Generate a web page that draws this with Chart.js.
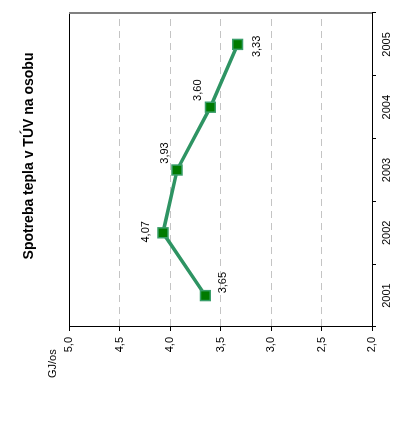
<!DOCTYPE html>
<html>
<head>
<meta charset="utf-8">
<script src="https://cdn.jsdelivr.net/npm/chart.js@4/dist/chart.umd.min.js"></script>
<style>
  html, body { margin: 0; padding: 0; background: #fff; overflow: hidden; }
  body { width: 393px; height: 428px; position: relative; }
  /* chart is drawn upright, then turned a quarter turn to match the page */
  #wrap {
    position: absolute; left: 0; top: 0;
    width: 428px; height: 393px;
    transform-origin: 0 0;
    transform: translateY(428px) rotate(-90deg);
  }
</style>
</head>
<body>
<div id="wrap"><canvas id="chart" width="428" height="393"></canvas></div>
<script>
// Data
const years = ['2001', '2002', '2003', '2004', '2005'];
const heatPerPerson = [3.65, 4.07, 3.93, 3.60, 3.33];   // GJ/os
const valueMin = 2.0;
const valueMax = 5.0;
const valueStep = 0.5;
const chartTitle = 'Spotreba tepla v TÚV na osobu';
const unitLabel = 'GJ/os';

// where each value label sits next to its point
const labelPlacement = ['below-right', 'above', 'above-right', 'above-right', 'below'];
const placementOffsets = {
  'above': [1, -17],
  'above-right': [17, -12],
  'below': [-2, 19],
  'below-right': [13, 18]
};

const FONT = '"Liberation Sans", Arial, sans-serif';

function formatComma(v, digits) {
  return v.toFixed(digits).replace('.', ',');
}

// Title, unit text and the two remaining frame lines
const framePlugin = {
  id: 'frame',
  afterDraw(chart) {
    const { ctx, chartArea } = chart;
    ctx.save();
    ctx.strokeStyle = '#000';
    ctx.lineWidth = 1;
    ctx.beginPath();
    ctx.moveTo(chartArea.left, chartArea.top + 0.5);
    ctx.lineTo(chartArea.right, chartArea.top + 0.5);
    ctx.stroke();
    ctx.strokeStyle = '#808080';
    ctx.lineWidth = 2;
    ctx.beginPath();
    ctx.moveTo(chartArea.right, chartArea.top);
    ctx.lineTo(chartArea.right, chartArea.bottom);
    ctx.stroke();

    ctx.fillStyle = '#000';
    ctx.font = 'bold 14px ' + FONT;
    ctx.textAlign = 'center';
    ctx.textBaseline = 'middle';
    ctx.fillText(chartTitle, 272, 29);

    ctx.font = '11px ' + FONT;
    ctx.textAlign = 'left';
    ctx.fillText(unitLabel, 50, 53);
    ctx.restore();
  }
};

// Value labels next to the points
const valueLabelPlugin = {
  id: 'valueLabels',
  afterDatasetsDraw(chart) {
    const { ctx } = chart;
    const meta = chart.getDatasetMeta(0);
    ctx.save();
    ctx.fillStyle = '#000';
    ctx.font = '11px ' + FONT;
    ctx.textAlign = 'center';
    ctx.textBaseline = 'middle';
    meta.data.forEach((pt, i) => {
      const off = placementOffsets[labelPlacement[i]] || [0, -15];
      ctx.fillText(formatComma(heatPerPerson[i], 2), pt.x + off[0], pt.y + off[1]);
    });
    ctx.restore();
  }
};

const ctx = document.getElementById('chart').getContext('2d');
new Chart(ctx, {
  type: 'line',
  data: {
    labels: years,
    datasets: [{
      data: heatPerPerson,
      borderColor: '#2e9463',
      borderWidth: 3.5,
      pointStyle: 'rect',
      pointRadius: 7,
      pointHoverRadius: 7,
      pointBackgroundColor: '#007a00',
      pointBorderColor: '#3a9e6a',
      pointBorderWidth: 1.5,
      tension: 0
    }]
  },
  options: {
    responsive: false,
    animation: false,
    devicePixelRatio: 1,
    layout: { padding: { left: 61, top: 69, right: 13, bottom: 0 } },
    plugins: {
      legend: { display: false },
      title: { display: false },
      tooltip: { enabled: false }
    },
    scales: {
      x: {
        offset: true,
        grid: {
          offset: true,
          drawOnChartArea: false,
          drawTicks: true,
          tickLength: 4,
          color: '#000',
          tickColor: '#000'
        },
        border: { display: true, color: '#000', width: 1 },
        ticks: {
          color: '#000',
          padding: 4,
          maxRotation: 0,
          font: { family: FONT, size: 11 }
        },
        afterFit(scale) { scale.height = 21; }
      },
      y: {
        min: valueMin,
        max: valueMax,
        grid: {
          drawTicks: true,
          tickLength: 4,
          color: (c) => (c.tick && (c.tick.value === valueMin || c.tick.value === valueMax)) ? 'rgba(0,0,0,0)' : '#c4c4c4',
          tickColor: '#000',
          lineWidth: 1
        },
        border: { display: true, color: '#000', width: 1, dash: [7, 5] },
        ticks: {
          stepSize: valueStep,
          color: '#000',
          padding: 6,
          font: { family: FONT, size: 11 },
          callback: (v) => formatComma(v, 1)
        },
        afterFit(scale) { scale.width = 40; }
      }
    }
  },
  plugins: [framePlugin, valueLabelPlugin]
});
</script>
</body>
</html>
